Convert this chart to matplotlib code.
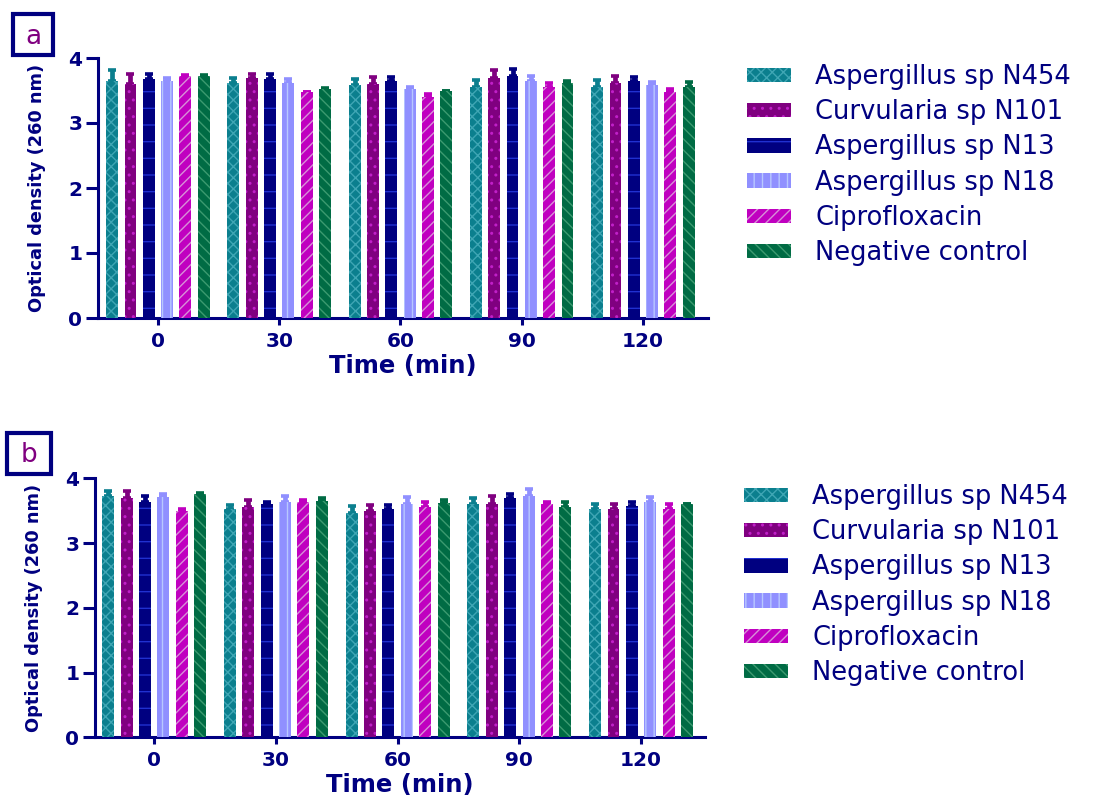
import numpy as np
import matplotlib
matplotlib.use('Agg')
import matplotlib.pyplot as plt
from matplotlib import font_manager
from matplotlib.patches import Rectangle

#matplotlib global parameters
plt.rc('font', family='DejaVu Sans')
plt.rc('axes', linewidth=2.2)
plt.rc('hatch', linewidth=1.0)

navy = '#000080'

times = ['0', '30', '60', '90', '120']
series = ['Aspergillus sp N454', 'Curvularia sp N101', 'Aspergillus sp N13',
          'Aspergillus sp N18', 'Ciprofloxacin', 'Negative control']

# fill colour, hatch colour, hatch pattern for each series
fills = ['#0b7f8e', '#800080', '#000080', '#9090ff', '#c000c0', '#006b44']
hatch_cols = ['#3fa6b4', '#c020c8', '#2030d0', '#b8c8ff', '#d890d8', '#3c9a70']
hatches = ['xxx', '..', '-', '||', '///', '\\\\\\']

# panel a: mean optical density per time point (rows = series, cols = times)
od_a = [[3.65, 3.62, 3.59, 3.55, 3.56],
        [3.60, 3.69, 3.60, 3.69, 3.62],
        [3.68, 3.67, 3.64, 3.73, 3.64],
        [3.64, 3.61, 3.52, 3.65, 3.58],
        [3.73, 3.47, 3.40, 3.55, 3.48],
        [3.72, 3.53, 3.50, 3.61, 3.56]]
err_a = [[0.17, 0.07, 0.08, 0.11, 0.10],
         [0.15, 0.07, 0.11, 0.13, 0.11],
         [0.07, 0.09, 0.07, 0.10, 0.07],
         [0.06, 0.07, 0.04, 0.08, 0.05],
         [0.01, 0.00, 0.04, 0.06, 0.04],
         [0.02, 0.01, 0.00, 0.03, 0.07]]

# panel b
od_b = [[3.73, 3.53, 3.47, 3.60, 3.52],
        [3.70, 3.55, 3.50, 3.61, 3.53],
        [3.63, 3.60, 3.52, 3.69, 3.57],
        [3.71, 3.64, 3.61, 3.73, 3.64],
        [3.50, 3.63, 3.56, 3.60, 3.53],
        [3.75, 3.65, 3.62, 3.56, 3.60]]
err_b = [[0.08, 0.05, 0.10, 0.09, 0.09],
         [0.11, 0.11, 0.09, 0.11, 0.08],
         [0.10, 0.04, 0.07, 0.07, 0.06],
         [0.04, 0.08, 0.10, 0.10, 0.07],
         [0.03, 0.04, 0.07, 0.03, 0.07],
         [0.03, 0.04, 0.04, 0.07, 0.00]]

# narrow face for the y label if one is installed
fams = {f.name for f in font_manager.fontManager.ttflist}
condensed = [f for f in font_manager.fontManager.ttflist
             if f.name == 'DejaVu Sans' and f.stretch == 'condensed' and f.weight == 'bold']
if 'Liberation Sans Narrow' in fams:
  ylab_kw = dict(family=['Liberation Sans Narrow'], fontsize=18.5, labelpad=10)
elif condensed:
  ylab_kw = dict(family=['DejaVu Sans'], fontstretch='condensed', fontsize=14.5, labelpad=12)
else:
  ylab_kw = dict(family=['DejaVu Sans'], fontsize=12.8, labelpad=16)

W, H = 1110, 798
fig = plt.figure(figsize=(W/100, H/100), dpi=100)


def panel(rect, od, err, xlim, letter, box, legend_xy):
  ax = fig.add_axes(rect)
  x = np.arange(len(times))
  step = 0.151
  width = 0.098
  for k in range(len(series)):
    pos = x + (k - 2.5)*step
    ax.errorbar(pos, od[k], yerr=[np.zeros(len(times)), err[k]], fmt='none',
                ecolor=fills[k], elinewidth=3.4, capsize=2.8, capthick=2.6, zorder=2)
    ax.bar(pos, od[k], width=width, color=fills[k], edgecolor=hatch_cols[k],
           linewidth=0, hatch=hatches[k], label=series[k], zorder=3)
  ax.set_ylim(0, 4)
  ax.set_xlim(*xlim)
  ax.set_yticks([0, 1, 2, 3, 4])
  ax.set_xticks(x)
  ax.set_xticklabels(times)
  for side in ['top', 'right']:
    ax.spines[side].set_visible(False)
  for side in ['left', 'bottom']:
    ax.spines[side].set_color(navy)
  ax.tick_params(axis='y', length=9, width=2.2, color=navy, pad=2)
  ax.tick_params(axis='x', length=5, width=2.2, color=navy, pad=5)
  for lab in ax.get_xticklabels() + ax.get_yticklabels():
    lab.set_fontsize(14.5)
    lab.set_fontweight('bold')
    lab.set_color(navy)
  ax.set_xlabel('Time (min)', fontsize=17.5, fontweight='bold', color=navy, labelpad=2)
  ax.set_ylabel('Optical density (260 nm)', fontweight='bold', color=navy, **ylab_kw)

  handles, labels = ax.get_legend_handles_labels()
  fig.legend(handles, labels, loc='upper left', bbox_to_anchor=legend_xy,
             bbox_transform=fig.transFigure, frameon=False, fontsize=18.5,
             labelcolor=navy, handlelength=1.7, handleheight=0.5,
             handletextpad=0.95, labelspacing=0.36, borderpad=0, borderaxespad=0)

  # boxed panel letter
  bx, by, bw, bh = box
  fig.add_artist(Rectangle((bx/W, 1 - (by + bh)/H), bw/W, bh/H, transform=fig.transFigure,
                           fill=False, edgecolor=navy, linewidth=3))
  fig.text((bx + bw/2)/W, 1 - (by + bh/2 + 2)/H, letter, ha='center', va='center',
           fontsize=19, color='#800080')
  return ax


panel([97.7/W, 1 - 318/H, 610/W, 260/H], od_a, err_a, (-0.497, 4.534), 'a',
      (13, 14, 40, 41), (747/W, 1 - 64/H))
panel([94.5/W, 1 - 737.3/H, 610.5/W, 259/H], od_b, err_b, (-0.49, 4.525), 'b',
      (7, 433, 44, 41), (744/W, 1 - 484/H))

plt.savefig('out.png', dpi=100)
